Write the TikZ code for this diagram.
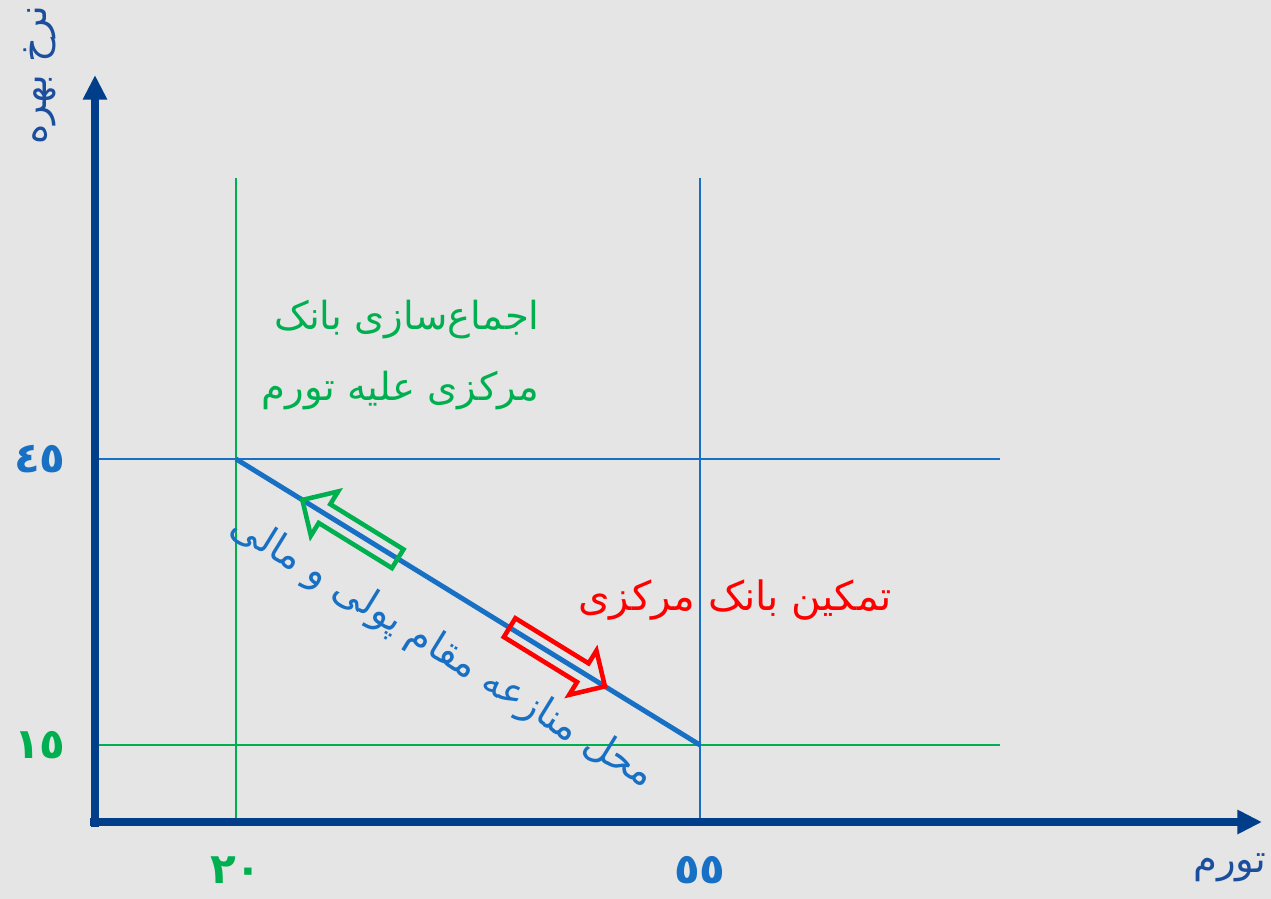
\documentclass[tikz,border=0pt]{standalone}
\usepackage{fontspec}
\setmainfont{DejaVu Sans}
\newfontfamily\arabicfont[Script=Arabic]{DejaVu Sans}
\TeXXeTstate=1
\definecolor{bgpaper}{RGB}{229,229,229}
\definecolor{axisblue}{RGB}{0,62,138}
\definecolor{lineblue}{RGB}{24,112,196}
\definecolor{labelblue}{RGB}{28,78,158}
\definecolor{mgreen}{RGB}{0,176,80}
\definecolor{mred}{RGB}{255,0,0}
\usetikzlibrary{arrows.meta,positioning,calc}
\tikzset{
  axisline/.style={draw=axisblue, line width=4.2pt, -{Triangle[length=14pt,width=13pt]}},
  guide/.style={line width=0.8pt},
  farsi/.style={font=\arabicfont\fontsize{22}{40}\selectfont, inner sep=0pt},
  digits/.style={font=\arabicfont\bfseries\fontsize{24}{28}\selectfont, inner sep=0pt},
  hollow/.style={line width=2.6pt, line join=miter}
}

\begin{document}
\begin{tikzpicture}[x=0.02cm, y=-0.02cm]
  \fill[bgpaper] (0,0) rectangle (1271,899);
  \useasboundingbox (0,0) rectangle (1271,899);

  % corner points of the chart
  \coordinate (O) at (95,822);
  \coordinate (xstart) at (90,822);
  \coordinate (xend) at (1262,822);
  \coordinate (ystart) at (95,827);
  \coordinate (yend) at (95,75);
  \coordinate (A) at (236,459);
  \coordinate (B) at (700,745);

  % guide lines
  \draw[guide, draw=mgreen] (236,178) coordinate (g20top) -- (236,822) coordinate (g20bot);
  \draw[guide, draw=mgreen] (95,745) coordinate (g15left) -- (1000,745) coordinate (g15right);
  \draw[guide, draw=lineblue] (700,178) coordinate (b55top) -- (700,822) coordinate (b55bot);
  \draw[guide, draw=lineblue] (95,459) coordinate (b45left) -- (1000,459) coordinate (b45right);

  % trade-off line
  \draw[draw=lineblue, line width=2.8pt] (A) -- (B);

  % axes
  \draw[axisline] (xstart) -- (xend);
  \draw[axisline] (ystart) -- (yend);

  % hollow arrows on the line
  \begin{scope}[shift={(397.7,558.7)}, rotate=148.35]
    \draw[hollow, draw=mgreen] (0,-11) -- (86,-11) -- (86,-26) -- (112,0) -- (86,26) -- (86,11) -- (0,11) -- cycle;
  \end{scope}
  \begin{scope}[shift={(509.6,627.6)}, rotate=-31.65]
    \draw[hollow, draw=mred] (0,-11) -- (86,-11) -- (86,-26) -- (112,0) -- (86,26) -- (86,11) -- (0,11) -- cycle;
  \end{scope}

  % labels
  \node[farsi, text=labelblue, rotate=90] (ylabel) at (40,75) {\beginR نرخ بهره\endR};
  \node[farsi, text=labelblue] (xlabel) at (1230,868) {\beginR تورم\endR};

  \node[farsi, text=mgreen, align=right, anchor=east] (consensus) at (540,355)
    {\beginR اجماع‌سازی بانک\endR\\ \beginR مرکزی علیه تورم\endR};
  \node[farsi, text=mred, font=\arabicfont\fontsize{23}{30}\selectfont] (empower) at (735,600) {\beginR تمکین بانک مرکزی\endR};
  \node[farsi, text=lineblue, rotate=-31.65] (conflict) at (442,652)
    {\beginR محل منازعه مقام پولی و مالی\endR};

  % tick values
  \node[digits, text=lineblue] (v45) at (40,459) {٤٥};
  \node[digits, text=mgreen] (v15) at (40,745) {١٥};
  \node[digits, text=mgreen] (v20) at (236,870) {٢٠};
  \node[digits, text=lineblue] (v55) at (700,870) {٥٥};
\end{tikzpicture}
\end{document}
